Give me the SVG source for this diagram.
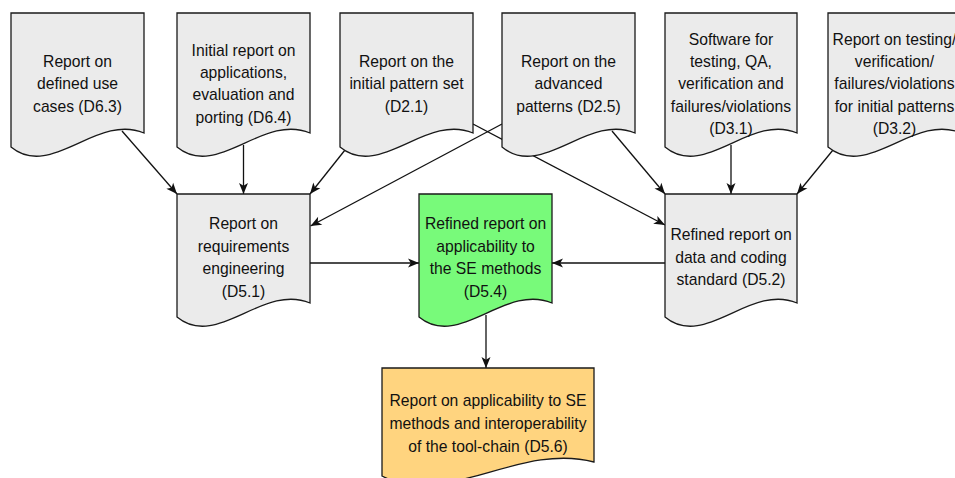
<svg xmlns="http://www.w3.org/2000/svg" width="955" height="478" viewBox="0 0 955 478">
<style>
.doc{stroke:#1a1a1a;stroke-width:1.3;stroke-linejoin:miter}
.gray{fill:#ebebeb}
.green{fill:#78fa7a}
.orange{fill:#ffd47f}
.lbl{font-family:"Liberation Sans",Arial,Helvetica,sans-serif;font-size:15.7px;fill:#111;text-anchor:middle}
.edge{fill:none;stroke:#111;stroke-width:1.3}
</style>
<defs>
<marker id="arrow" markerUnits="userSpaceOnUse" markerWidth="13" markerHeight="11" refX="11" refY="4.5" orient="auto" overflow="visible">
<path d="M0,0 L11,4.5 L0,9 L2.8,4.5 Z" fill="#111"/>
</marker>
</defs>
<rect width="955" height="478" fill="#fff"/>
<g id="connectors">
<path class="edge" d="M122,131 L177,194" marker-end="url(#arrow)"/>
<path class="edge" d="M243.5,145 L243.5,194" marker-end="url(#arrow)"/>
<path class="edge" d="M345,150 L310,194" marker-end="url(#arrow)"/>
<path class="edge" d="M502,124 L310.5,226" marker-end="url(#arrow)"/>
<path class="edge" d="M473,124 L665,225" marker-end="url(#arrow)"/>
<path class="edge" d="M612,131 L665,194" marker-end="url(#arrow)"/>
<path class="edge" d="M731,145 L731,194" marker-end="url(#arrow)"/>
<path class="edge" d="M833,150 L797,194" marker-end="url(#arrow)"/>
<path class="edge" d="M310,263 L419,263" marker-end="url(#arrow)"/>
<path class="edge" d="M665,263 L552,263" marker-end="url(#arrow)"/>
<path class="edge" d="M486,315 L486,368" marker-end="url(#arrow)"/>
</g>
<g id="n-d63">
<path class="doc gray" d="M11,13 H144 V133 C96.7,113 50.9,180 11,147 Z"/>
<text class="lbl"><tspan x="77.5" y="67">Report on</tspan><tspan x="77.5" y="89.2">defined use</tspan><tspan x="77.5" y="111.5">cases (D6.3)</tspan></text>
</g>
<g id="n-d64">
<path class="doc gray" d="M177,13 H310 V133 C262.7,113 216.9,180 177,147 Z"/>
<text class="lbl"><tspan x="243.5" y="55.8">Initial report on</tspan><tspan x="243.5" y="78">applications,</tspan><tspan x="243.5" y="100.3">evaluation and</tspan><tspan x="243.5" y="122.6">porting (D6.4)</tspan></text>
</g>
<g id="n-d21">
<path class="doc gray" d="M340,13 H473 V133 C425.7,113 379.9,180 340,147 Z"/>
<text class="lbl"><tspan x="406.5" y="67">Report on the</tspan><tspan x="406.5" y="89.2">initial pattern set</tspan><tspan x="406.5" y="111.5">(D2.1)</tspan></text>
</g>
<g id="n-d25">
<path class="doc gray" d="M502,13 H635 V133 C587.7,113 541.9,180 502,147 Z"/>
<text class="lbl"><tspan x="568.5" y="67">Report on the</tspan><tspan x="568.5" y="89.2">advanced</tspan><tspan x="568.5" y="111.5">patterns (D2.5)</tspan></text>
</g>
<g id="n-d31">
<path class="doc gray" d="M665,13 H797 V133 C750,113 704.6,180 665,147 Z"/>
<text class="lbl"><tspan x="731" y="44.6">Software for</tspan><tspan x="731" y="66.9">testing, QA,</tspan><tspan x="731" y="89.2">verification and</tspan><tspan x="731" y="111.5">failures/violations</tspan><tspan x="731" y="133.8">(D3.1)</tspan></text>
</g>
<g id="n-d32">
<path class="doc gray" d="M828,13 H961 V133 C913.7,113 867.9,180 828,147 Z"/>
<text class="lbl"><tspan x="894.5" y="44.6">Report on testing/</tspan><tspan x="894.5" y="66.9">verification/</tspan><tspan x="894.5" y="89.2">failures/violations</tspan><tspan x="894.5" y="111.5">for initial patterns</tspan><tspan x="894.5" y="133.8">(D3.2)</tspan></text>
</g>
<g id="n-d51">
<path class="doc gray" d="M177,194 H310 V303 C262.7,283 216.9,350 177,317 Z"/>
<text class="lbl"><tspan x="243.5" y="229.1">Report on</tspan><tspan x="243.5" y="251.5">requirements</tspan><tspan x="243.5" y="274">engineering</tspan><tspan x="243.5" y="296.5">(D5.1)</tspan></text>
</g>
<g id="n-d54">
<path class="doc green" d="M419,194 H552 V303 C504.7,283 458.9,350 419,317 Z"/>
<text class="lbl"><tspan x="485.5" y="229.1">Refined report on</tspan><tspan x="485.5" y="251.5">applicability to</tspan><tspan x="485.5" y="274">the SE methods</tspan><tspan x="485.5" y="296.5">(D5.4)</tspan></text>
</g>
<g id="n-d52">
<path class="doc gray" d="M665,194 H797 V303 C750,283 704.6,350 665,317 Z"/>
<text class="lbl"><tspan x="731" y="240.3">Refined report on</tspan><tspan x="731" y="262.8">data and coding</tspan><tspan x="731" y="285.3">standard (D5.2)</tspan></text>
</g>
<g id="n-d56">
<path class="doc orange" d="M382,368 H594 V462 C518.5,442 445.6,509 382,476 Z"/>
<text class="lbl"><tspan x="488" y="405.5">Report on applicability to SE</tspan><tspan x="488" y="428.5">methods and interoperability</tspan><tspan x="488" y="451.5">of the tool-chain (D5.6)</tspan></text>
</g>
</svg>
